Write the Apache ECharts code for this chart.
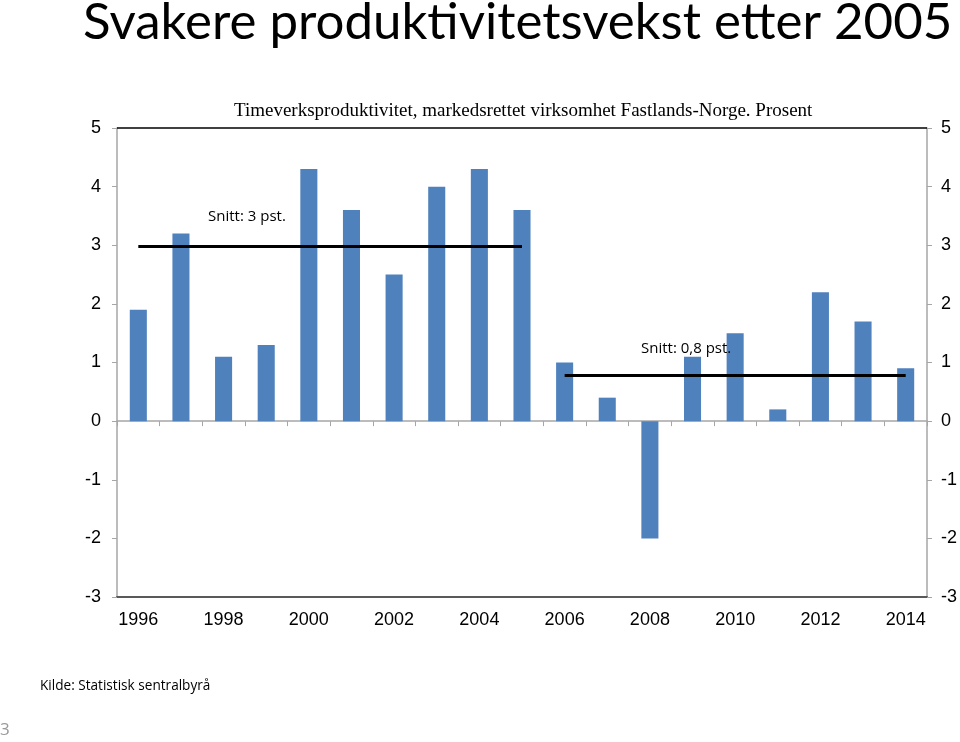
<!DOCTYPE html>
<html><head><meta charset="utf-8">
<script src="https://cdn.jsdelivr.net/npm/echarts@6/dist/echarts.min.js"></script>
<style>html,body{margin:0;padding:0;background:#fff}#c{width:960px;height:742px}</style>
</head><body><div id="c"></div>
<script>
const years = ['1996','1997','1998','1999','2000','2001','2002','2003','2004','2005','2006','2007','2008','2009','2010','2011','2012','2013','2014'];
const growth = [1.9,3.2,1.1,1.3,4.3,3.6,2.5,4.0,4.3,3.6,1.0,0.4,-2.0,1.1,1.5,0.2,2.2,1.7,0.9];
const avgBefore = [2.98,2.98,2.98,2.98,2.98,2.98,2.98,2.98,2.98,2.98,null,null,null,null,null,null,null,null,null];
const avgAfter = [null,null,null,null,null,null,null,null,null,null,0.78,0.78,0.78,0.78,0.78,0.78,0.78,0.78,0.78];
const yTicks = [-3,-2,-1,0,1,2,3,4,5];

const chart = echarts.init(document.getElementById('c'));
const yAxisCommon = {
  type:'value', min:yTicks[0], max:yTicks[yTicks.length-1], interval:1,
  splitLine:{show:false},
  axisLine:{show:true, lineStyle:{color:'#a6a6a6', width:1.5}},
  axisTick:{show:true, length:5, lineStyle:{color:'#a6a6a6'}},
  axisLabel:{color:'#000', fontFamily:'Liberation Sans', fontSize:18}
};
chart.setOption({
  animation:false,
  title:[
    {text:'Svakere produktivitetsvekst etter 2005', left:78, top:-8,
     textStyle:{fontFamily:'Lato', fontWeight:'normal', fontSize:51, color:'#000'}},
    {text:'Timeverksproduktivitet, markedsrettet virksomhet Fastlands-Norge. Prosent', left:229, top:97,
     textStyle:{fontFamily:'Liberation Serif', fontWeight:'normal', fontSize:19, color:'#000'}}
  ],
  grid:{left:117, right:31, top:128, bottom:145},
  xAxis:[
    {type:'category', data:years, position:'bottom', axisLine:{onZero:false, lineStyle:{color:'#595959', width:2}},
     axisTick:{show:false},
     axisLabel:{interval:1, color:'#000', fontFamily:'Liberation Sans', fontSize:18, margin:14}},
    {type:'category', data:years, position:'top', axisLine:{onZero:true, lineStyle:{color:'#a6a6a6', width:1.5}},
     axisTick:{show:true, inside:true, length:5, lineStyle:{color:'#a6a6a6'}},
     axisLabel:{show:false}}
  ],
  yAxis:[
    Object.assign({}, yAxisCommon, {position:'left', axisLabel:Object.assign({}, yAxisCommon.axisLabel, {margin:16})}),
    Object.assign({}, yAxisCommon, {position:'right', axisLabel:Object.assign({}, yAxisCommon.axisLabel, {margin:14})})
  ],
  series:[
    {type:'bar', data:growth, xAxisIndex:0, yAxisIndex:0, barWidth:'40%', itemStyle:{color:'#4f81bd'},
     markLine:{silent:true, symbol:'none', label:{show:false}, lineStyle:{color:'#000', type:'solid', width:1.5},
       data:[{yAxis:yTicks[yTicks.length-1]}]}},
    {type:'line', data:avgBefore, xAxisIndex:0, yAxisIndex:0, showSymbol:false, symbol:'none',
     lineStyle:{color:'#000', width:3}, z:5},
    {type:'line', data:avgAfter, xAxisIndex:0, yAxisIndex:0, showSymbol:false, symbol:'none',
     lineStyle:{color:'#000', width:3}, z:5}
  ],
  graphic:[
    {type:'text', z:100, left:208, top:209, style:{text:'Snitt: 3 pst.', font:'15px "Open Sans"', fill:'#000'}},
    {type:'text', z:100, left:641, top:341, style:{text:'Snitt: 0,8 pst.', font:'15px "Open Sans"', fill:'#000'}},
    {type:'text', z:100, left:40, top:679, style:{text:'Kilde: Statistisk sentralbyrå', font:'13.6px "Open Sans"', fill:'#000'}},
    {type:'text', z:100, left:0, top:722, style:{text:'3', font:'17px "Open Sans"', fill:'#999'}}
  ]
});
</script></body></html>
